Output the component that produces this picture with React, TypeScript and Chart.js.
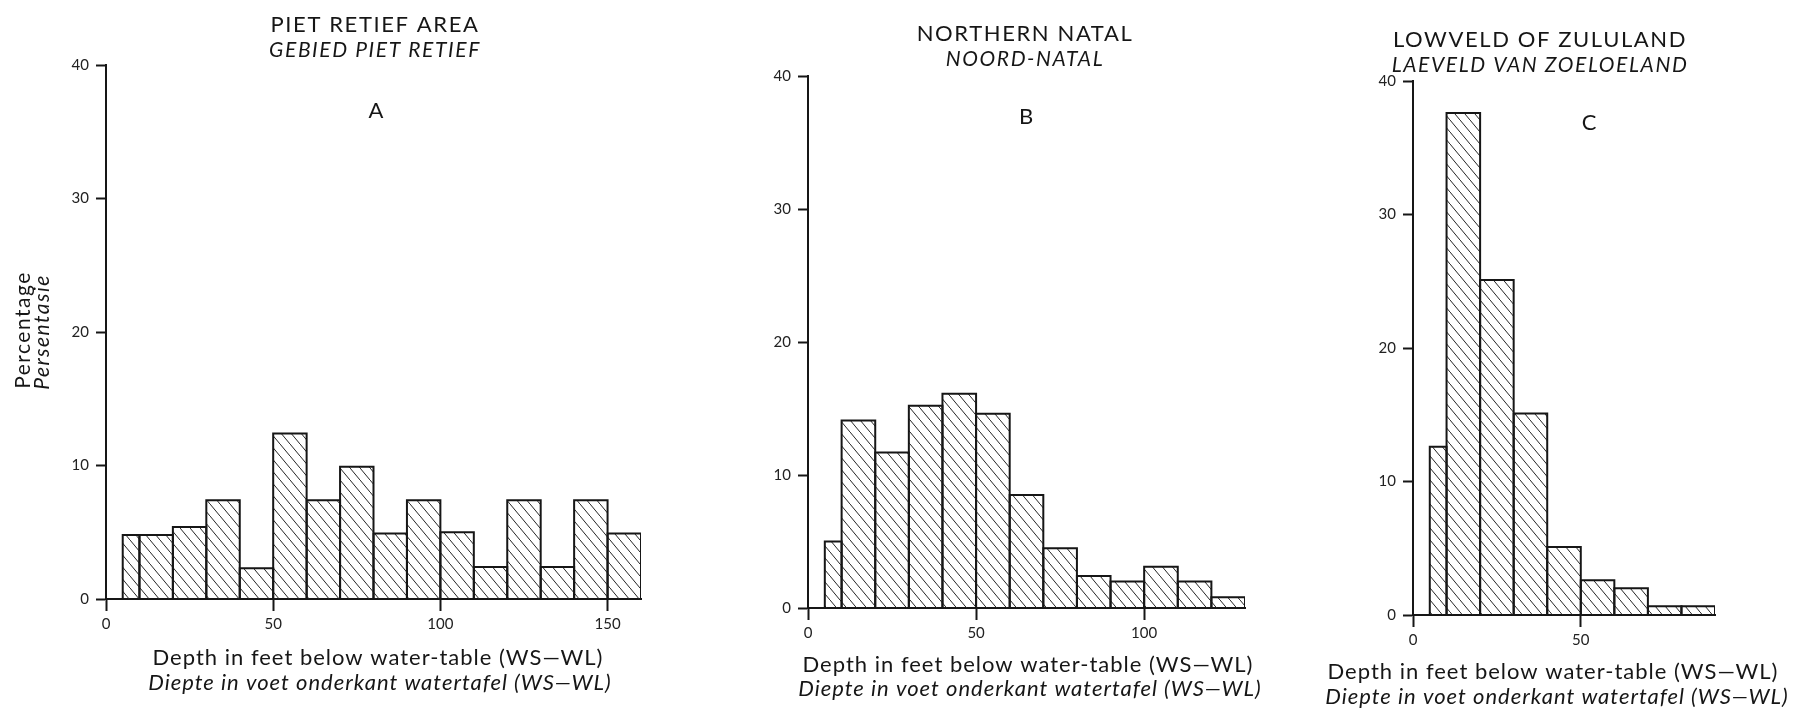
import React, { useEffect, useRef } from 'react';
import { Chart, registerables } from 'chart.js';

Chart.register(...registerables);

// ---------------- data ----------------
const yTickValues = [0, 10, 20, 30, 40];

const binEdgesA = [5, 10, 20, 30, 40, 50, 60, 70, 80, 90, 100, 110, 120, 130, 140, 150, 160];
const percentA = [4.8, 4.8, 5.4, 7.4, 2.3, 12.4, 7.4, 9.9, 4.9, 7.4, 5.0, 2.4, 7.4, 2.4, 7.4, 4.9];
const xTicksA = [0, 50, 100, 150];

const binEdgesB = [5, 10, 20, 30, 40, 50, 60, 70, 80, 90, 100, 110, 120, 130];
const percentB = [5.0, 14.1, 11.7, 15.2, 16.1, 14.6, 8.5, 4.5, 2.4, 2.0, 3.1, 2.0, 0.8];
const xTicksB = [0, 50, 100];

const binEdgesC = [5, 10, 20, 30, 40, 50, 60, 70, 80, 90];
const percentC = [12.6, 37.6, 25.1, 15.1, 5.1, 2.6, 2.0, 0.65, 0.65];
const xTicksC = [0, 50];

const titlesA = ['PIET RETIEF AREA', 'GEBIED PIET RETIEF'];
const titlesB = ['NORTHERN NATAL', 'NOORD-NATAL'];
const titlesC = ['LOWVELD OF ZULULAND', 'LAEVELD VAN ZOELOELAND'];
const xAxisLabels = ['Depth in feet below water-table (WS\u2014WL)', 'Diepte in voet onderkant watertafel (WS\u2014WL)'];
const yAxisLabels = ['Percentage', 'Persentasie'];

// ---------------- layout (page coordinates) ----------------
const PAGE_H = 713;
const INK = '#161616';

type Panel = {
  letter: string;
  left: number;
  width: number;
  area: { left: number; right: number; top: number; bottom: number };
  xMax: number;
  edges: number[];
  values: number[];
  xTicks: number[];
  titles: string[];
  titleX: number;
  titleY: number;
  subY: number;
  letterX: number;
  letterY: number;
  xl1: [number, number];
  xl2: [number, number];
  showY: boolean;
};

const panels: Panel[] = [
  {
    letter: 'A', left: 0, width: 700,
    area: { left: 106, right: 641, top: 65, bottom: 599 },
    xMax: 160, edges: binEdgesA, values: percentA, xTicks: xTicksA, titles: titlesA,
    titleX: 375, titleY: 25, subY: 50, letterX: 376, letterY: 111,
    xl1: [378, 658], xl2: [380, 683], showY: true,
  },
  {
    letter: 'B', left: 700, width: 600,
    area: { left: 808, right: 1245, top: 76, bottom: 608 },
    xMax: 130, edges: binEdgesB, values: percentB, xTicks: xTicksB, titles: titlesB,
    titleX: 1025, titleY: 34, subY: 59, letterX: 1026, letterY: 117,
    xl1: [1028, 665], xl2: [1030, 689], showY: false,
  },
  {
    letter: 'C', left: 1300, width: 505,
    area: { left: 1413, right: 1715, top: 81, bottom: 615 },
    xMax: 90, edges: binEdgesC, values: percentC, xTicks: xTicksC, titles: titlesC,
    titleX: 1540, titleY: 40, subY: 65, letterX: 1589, letterY: 123,
    xl1: [1553, 672], xl2: [1557, 697], showY: false,
  },
];

function makeHatch(): CanvasPattern | string {
  const w = 10, h = 12;
  const c = document.createElement('canvas');
  c.width = w; c.height = h;
  const g = c.getContext('2d');
  if (!g) return 'rgba(0,0,0,0.2)';
  g.strokeStyle = '#262626';
  g.lineWidth = 1;
  g.beginPath();
  g.moveTo(-1, -h / w); g.lineTo(w + 1, h + h / w);
  g.stroke();
  const p = g.createPattern(c, 'repeat');
  return p || 'rgba(0,0,0,0.2)';
}

const Y_W = 60;
const X_H = 40;

function PanelChart({ p }: { p: Panel }) {
  const ref = useRef<HTMLCanvasElement | null>(null);
  useEffect(() => {
    const canvas = ref.current;
    if (!canvas) return;
    const hatch = makeHatch();
    const datasets = p.values.map((v, i) => {
      const x0 = p.edges[i];
      const x1 = p.edges[i + 1];
      return {
        data: [
          { x: x0, y: 0 },
          { x: x0, y: v },
          { x: x1, y: v },
          { x: x1, y: 0 },
        ],
        showLine: true,
        fill: 'origin',
        backgroundColor: hatch,
        borderColor: INK,
        borderWidth: 2,
        pointRadius: 0,
        tension: 0,
      };
    });

    const localLeft = p.area.left - p.left;
    const localRight = p.area.right - p.left;

    const textPlugin = {
      id: 'panelText',
      afterDraw(chart: any) {
        const ctx = chart.ctx as CanvasRenderingContext2D;
        const ox = p.left;
        ctx.save();
        ctx.fillStyle = INK;
        ctx.textAlign = 'center';
        ctx.textBaseline = 'middle';
        (ctx as any).letterSpacing = '1.6px';
        ctx.font = '22px Lato';
        ctx.fillText(p.titles[0], p.titleX - ox, p.titleY);
        ctx.font = 'italic 21px Lato';
        ctx.fillText(p.titles[1], p.titleX - ox, p.subY);
        (ctx as any).letterSpacing = '0px';
        ctx.font = '22px Lato';
        ctx.fillText(p.letter, p.letterX - ox, p.letterY);
        (ctx as any).letterSpacing = '1px';
        ctx.font = '22px Lato';
        ctx.fillText(xAxisLabels[0], p.xl1[0] - ox, p.xl1[1]);
        ctx.font = 'italic 22px Lato';
        ctx.fillText(xAxisLabels[1], p.xl2[0] - ox, p.xl2[1]);
        if (p.showY) {
          (ctx as any).letterSpacing = '1.5px';
          ctx.save();
          ctx.translate(23 - ox, 330);
          ctx.rotate(-Math.PI / 2);
          ctx.font = '21px Lato';
          ctx.fillText(yAxisLabels[0], 0, 0);
          ctx.restore();
          ctx.save();
          ctx.translate(42 - ox, 332);
          ctx.rotate(-Math.PI / 2);
          ctx.font = 'italic 21px Lato';
          ctx.fillText(yAxisLabels[1], 0, 0);
          ctx.restore();
        }
        ctx.restore();
      },
    };

    const chart = new Chart(canvas, {
      type: 'scatter',
      data: { datasets: datasets as any },
      options: {
        animation: false,
        responsive: false,
        events: [],
        layout: {
          padding: {
            left: localLeft - Y_W,
            right: p.width - localRight,
            top: p.area.top,
            bottom: PAGE_H - p.area.bottom - X_H,
          },
        },
        plugins: {
          legend: { display: false },
          tooltip: { enabled: false },
          title: { display: false },
        },
        scales: {
          x: {
            type: 'linear',
            min: 0,
            max: p.xMax,
            afterBuildTicks: (s: any) => {
              s.ticks = p.xTicks.map((v) => ({ value: v }));
            },
            afterFit: (s: any) => {
              s.height = X_H;
            },
            grid: {
              display: true,
              drawOnChartArea: false,
              drawTicks: true,
              tickLength: 12,
              tickWidth: 2,
              tickColor: INK,
            },
            border: { display: true, color: INK, width: 2 },
            ticks: {
              color: '#222',
              font: { family: 'Lato', size: 15 },
              padding: 4,
              maxRotation: 0,
              autoSkip: false,
            },
          },
          y: {
            type: 'linear',
            min: 0,
            max: 40,
            afterBuildTicks: (s: any) => {
              s.ticks = yTickValues.map((v) => ({ value: v }));
            },
            afterFit: (s: any) => {
              s.width = Y_W;
            },
            grid: {
              display: true,
              drawOnChartArea: false,
              drawTicks: true,
              tickLength: 10,
              tickWidth: 2,
              tickColor: INK,
            },
            border: { display: true, color: INK, width: 2 },
            ticks: {
              color: '#222',
              font: { family: 'Lato', size: 15 },
              padding: 7,
            },
          },
        },
      },
      plugins: [textPlugin],
    } as any);
    return () => {
      chart.destroy();
    };
  }, [p]);

  return (
    <canvas
      ref={ref}
      width={p.width}
      height={PAGE_H}
      style={{ position: 'absolute', left: p.left, top: 0, width: p.width, height: PAGE_H }}
    />
  );
}

export default function App() {
  return (
    <div style={{ position: 'absolute', left: 0, top: 0, width: 1805, height: PAGE_H, background: '#fff' }}>
      {panels.map((p) => (
        <PanelChart key={p.letter} p={p} />
      ))}
    </div>
  );
}
